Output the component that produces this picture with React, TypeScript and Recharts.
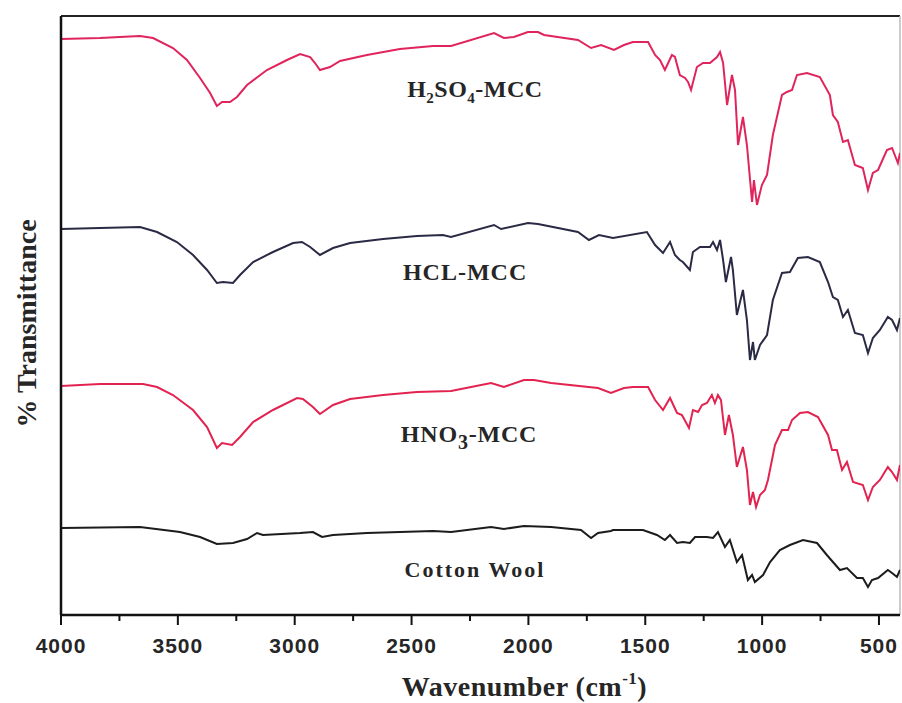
import React from 'react';
import { LineChart, Line, XAxis, YAxis, ReferenceLine, ReferenceDot } from 'recharts';

// Wavenumber (cm-1) and offset transmittance values
const h2so4Wavenumber = [4000, 3833, 3748, 3662, 3606, 3521, 3461, 3405, 3362, 3333, 3311, 3277, 3247, 3204, 3119, 3033, 2977, 2934, 2913, 2892, 2849, 2806, 2691, 2550, 2408, 2331, 2147, 2105, 2062, 2002, 1959, 1933, 1788, 1732, 1689, 1634, 1591, 1553, 1488, 1458, 1437, 1416, 1386, 1373, 1352, 1330, 1317, 1304, 1279, 1253, 1223, 1193, 1180, 1167, 1150, 1129, 1116, 1103, 1082, 1065, 1043, 1035, 1022, 1001, 979, 954, 915, 894, 872, 851, 808, 753, 710, 697, 676, 654, 633, 603, 569, 547, 526, 504, 466, 444, 419, 410];
const h2so4Transmittance = [576, 577, 578, 579, 577, 567, 555, 537, 522, 509, 513, 513, 518, 530, 545, 555, 561, 558, 552, 545, 548, 554, 560, 566, 569, 569, 582, 577, 578, 583, 583, 580, 575, 567, 570, 565, 570, 573, 573, 560, 555, 545, 560, 558, 540, 537, 533, 525, 548, 552, 552, 558, 563, 552, 510, 540, 525, 470, 498, 470, 413, 435, 410, 430, 440, 480, 520, 523, 525, 540, 542, 538, 520, 500, 493, 473, 475, 450, 447, 425, 442, 445, 465, 467, 452, 462];

const hclWavenumber = [4000, 3833, 3662, 3589, 3504, 3435, 3375, 3333, 3307, 3264, 3234, 3178, 3093, 3007, 2969, 2934, 2892, 2836, 2763, 2622, 2477, 2366, 2331, 2147, 2117, 2002, 1959, 1788, 1741, 1698, 1638, 1493, 1458, 1424, 1394, 1373, 1352, 1339, 1309, 1296, 1266, 1223, 1210, 1193, 1180, 1167, 1155, 1133, 1125, 1108, 1082, 1065, 1052, 1039, 1031, 1009, 979, 954, 915, 881, 847, 804, 753, 718, 697, 676, 654, 633, 603, 569, 547, 526, 496, 462, 444, 423, 410];
const hclTransmittance = [386, 387, 388, 383, 373, 360, 345, 332, 333, 332, 340, 353, 363, 372, 373, 368, 360, 367, 372, 376, 379, 380, 378, 390, 386, 392, 391, 383, 375, 380, 377, 383, 370, 362, 373, 360, 355, 353, 345, 363, 368, 368, 373, 365, 375, 355, 333, 358, 345, 300, 325, 295, 255, 273, 255, 270, 280, 315, 342, 343, 357, 358, 353, 333, 318, 315, 298, 305, 282, 280, 262, 277, 285, 298, 295, 285, 297];

const hno3Wavenumber = [4000, 3833, 3649, 3589, 3521, 3435, 3375, 3333, 3311, 3268, 3234, 3178, 3093, 2990, 2965, 2922, 2892, 2836, 2763, 2622, 2477, 2331, 2160, 2105, 2019, 1976, 1903, 1702, 1647, 1591, 1553, 1488, 1458, 1424, 1394, 1364, 1343, 1313, 1296, 1274, 1257, 1236, 1215, 1202, 1189, 1176, 1159, 1142, 1125, 1108, 1082, 1065, 1052, 1039, 1026, 1009, 988, 975, 945, 915, 889, 872, 838, 804, 761, 718, 701, 680, 658, 637, 611, 569, 547, 526, 496, 462, 444, 423, 410];
const hno3Transmittance = [229, 231, 231, 228, 220, 205, 188, 167, 172, 170, 178, 193, 205, 217, 216, 208, 201, 210, 216, 220, 223, 224, 232, 228, 235, 235, 232, 227, 222, 227, 228, 228, 215, 205, 217, 202, 200, 187, 205, 203, 210, 212, 220, 212, 220, 215, 180, 200, 180, 148, 168, 145, 110, 123, 108, 120, 125, 135, 170, 185, 185, 195, 202, 203, 198, 180, 165, 165, 145, 153, 133, 130, 115, 128, 135, 148, 143, 135, 150];

const cottonWavenumber = [4000, 3662, 3491, 3405, 3333, 3264, 3204, 3161, 3136, 2977, 2922, 2883, 2836, 2691, 2408, 2331, 2160, 2105, 2019, 1903, 1775, 1732, 1702, 1647, 1638, 1510, 1450, 1416, 1394, 1364, 1339, 1309, 1287, 1236, 1210, 1189, 1159, 1138, 1108, 1086, 1061, 1043, 1031, 996, 966, 924, 881, 825, 765, 723, 697, 667, 637, 594, 569, 547, 530, 504, 462, 444, 423, 410];
const cottonTransmittance = [87, 88, 83, 78, 71, 72, 76, 82, 80, 82, 83, 78, 80, 82, 84, 83, 88, 86, 89, 88, 85, 77, 82, 84, 85, 85, 80, 75, 80, 72, 73, 72, 78, 78, 77, 83, 68, 75, 53, 60, 35, 40, 33, 40, 53, 65, 70, 75, 72, 60, 53, 45, 47, 37, 37, 28, 35, 37, 45, 42, 38, 45];

const majorTicks = [4000, 3500, 3000, 2500, 2000, 1500, 1000, 500];
const minorTicks = [3750, 3250, 2750, 2250, 1750, 1250, 750];
const allTicks = [...majorTicks, ...minorTicks].sort((a, b) => b - a);
const xDomain = [410, 4000];
const yDomain = [0, 599];

// label anchors (wavenumber, value at text baseline)
const labelAnchors = {
  h2so4: [2229, 518],
  hcl: [2271, 335],
  hno3: [2254, 173],
  cotton: [2229, 38],
};

const toPoints = (wn: number[], t: number[]) => wn.map((w, i) => ({ wn: w, t: t[i] }));

const serif = '"Liberation Serif", "Times New Roman", serif';
const sans = '"Liberation Sans", Arial, sans-serif';
const textColor = '#262626';

const makeLabel = (kind: string) => (props: any) => {
  const vb = props.viewBox || {};
  const x = (vb.x || 0) + (vb.width || 0) / 2;
  const y = (vb.y || 0) + (vb.height || 0) / 2;
  const common = { x, y, textAnchor: 'middle' as const, fontFamily: serif, fontWeight: 700, fill: textColor, fontSize: 24 };
  if (kind === 'h2so4') {
    return (
      <text {...common} letterSpacing={0.5}>
        <tspan>H</tspan>
        <tspan fontSize={15} dy={6}>2</tspan>
        <tspan dy={-6}>SO</tspan>
        <tspan fontSize={15} dy={6}>4</tspan>
        <tspan dy={-6}>-MCC</tspan>
      </text>
    );
  }
  if (kind === 'hno3') {
    return (
      <text {...common} letterSpacing={0.8}>
        <tspan>HNO</tspan>
        <tspan fontSize={20} dy={7}>3</tspan>
        <tspan dy={-7}>-MCC</tspan>
      </text>
    );
  }
  if (kind === 'hcl') {
    return <text {...common} fontSize={24} letterSpacing={1}>HCL-MCC</text>;
  }
  return <text {...common} fontSize={22} letterSpacing={2}>Cotton Wool</text>;
};

const xTitle = (props: any) => {
  const vb = props.viewBox || {};
  const cx = vb.x + vb.width / 2 + 44;
  const y = vb.y + 81;
  return (
    <text x={cx} y={y} textAnchor="middle" fontFamily={serif} fontWeight={700} fontSize={28} fill={textColor} letterSpacing={0.5}>
      <tspan>Wavenumber (cm</tspan>
      <tspan fontSize={17} dy={-12}>-1</tspan>
      <tspan dy={12}>)</tspan>
    </text>
  );
};

const yTitle = (props: any) => {
  const vb = props.viewBox || {};
  const x = vb.x + vb.width - 25;
  const y = vb.y + vb.height / 2 + 8;
  return (
    <text x={x} y={y} transform={`rotate(-90, ${x}, ${y})`} textAnchor="middle" fontFamily={serif} fontWeight={700} fontSize={28} fill={textColor}>
      % Transmittance
    </text>
  );
};

const XTick = (props: any) => {
  const { x, y, payload } = props;
  const v = payload.value;
  const isMajor = majorTicks.includes(v);
  return (
    <g>
      <line x1={x} x2={x} y1={y} y2={y + (isMajor ? 10 : 6)} stroke="#111" strokeWidth={2} />
      {isMajor ? (
        <text x={x} y={y + 38} textAnchor="middle" fontFamily={sans} fontWeight={700} fontSize={21} fill={textColor} letterSpacing={1}>
          {v}
        </text>
      ) : null}
    </g>
  );
};

export default function App() {
  return (
    <div style={{ position: 'absolute', left: 0, top: 0, width: 902, height: 703, background: '#fff' }}>
      <LineChart width={902} height={703} margin={{ top: 16, right: 2, left: 1, bottom: 58 }}>
        <XAxis
          dataKey="wn"
          type="number"
          domain={xDomain}
          reversed
          allowDataOverflow
          ticks={allTicks}
          height={30}
          tickSize={0}
          tickMargin={0}
          axisLine={{ stroke: '#111', strokeWidth: 2.5 }}
          tickLine={false}
          tick={<XTick />}
          interval={0}
          label={{ content: xTitle }}
        />
        <YAxis
          type="number"
          domain={yDomain}
          width={60}
          tick={false}
          tickLine={false}
          axisLine={{ stroke: '#111', strokeWidth: 2.5 }}
          label={{ content: yTitle }}
        />
        <ReferenceLine y={599} stroke="#222" strokeWidth={2} />
        <ReferenceLine x={410} stroke="#bbb" strokeWidth={1.5} />
        <Line data={toPoints(cottonWavenumber, cottonTransmittance)} dataKey="t" type="linear" dot={false} stroke="#1c1c1c" strokeWidth={2} isAnimationActive={false} />
        <Line data={toPoints(hno3Wavenumber, hno3Transmittance)} dataKey="t" type="linear" dot={false} stroke="#e3234f" strokeWidth={2} isAnimationActive={false} />
        <Line data={toPoints(hclWavenumber, hclTransmittance)} dataKey="t" type="linear" dot={false} stroke="#2a2a45" strokeWidth={2} isAnimationActive={false} />
        <Line data={toPoints(h2so4Wavenumber, h2so4Transmittance)} dataKey="t" type="linear" dot={false} stroke="#e0245c" strokeWidth={2} isAnimationActive={false} />
        <ReferenceDot x={labelAnchors.h2so4[0]} y={labelAnchors.h2so4[1]} r={0} fill="none" stroke="none" label={makeLabel('h2so4')} />
        <ReferenceDot x={labelAnchors.hcl[0]} y={labelAnchors.hcl[1]} r={0} fill="none" stroke="none" label={makeLabel('hcl')} />
        <ReferenceDot x={labelAnchors.hno3[0]} y={labelAnchors.hno3[1]} r={0} fill="none" stroke="none" label={makeLabel('hno3')} />
        <ReferenceDot x={labelAnchors.cotton[0]} y={labelAnchors.cotton[1]} r={0} fill="none" stroke="none" label={makeLabel('cotton')} />
      </LineChart>
    </div>
  );
}
